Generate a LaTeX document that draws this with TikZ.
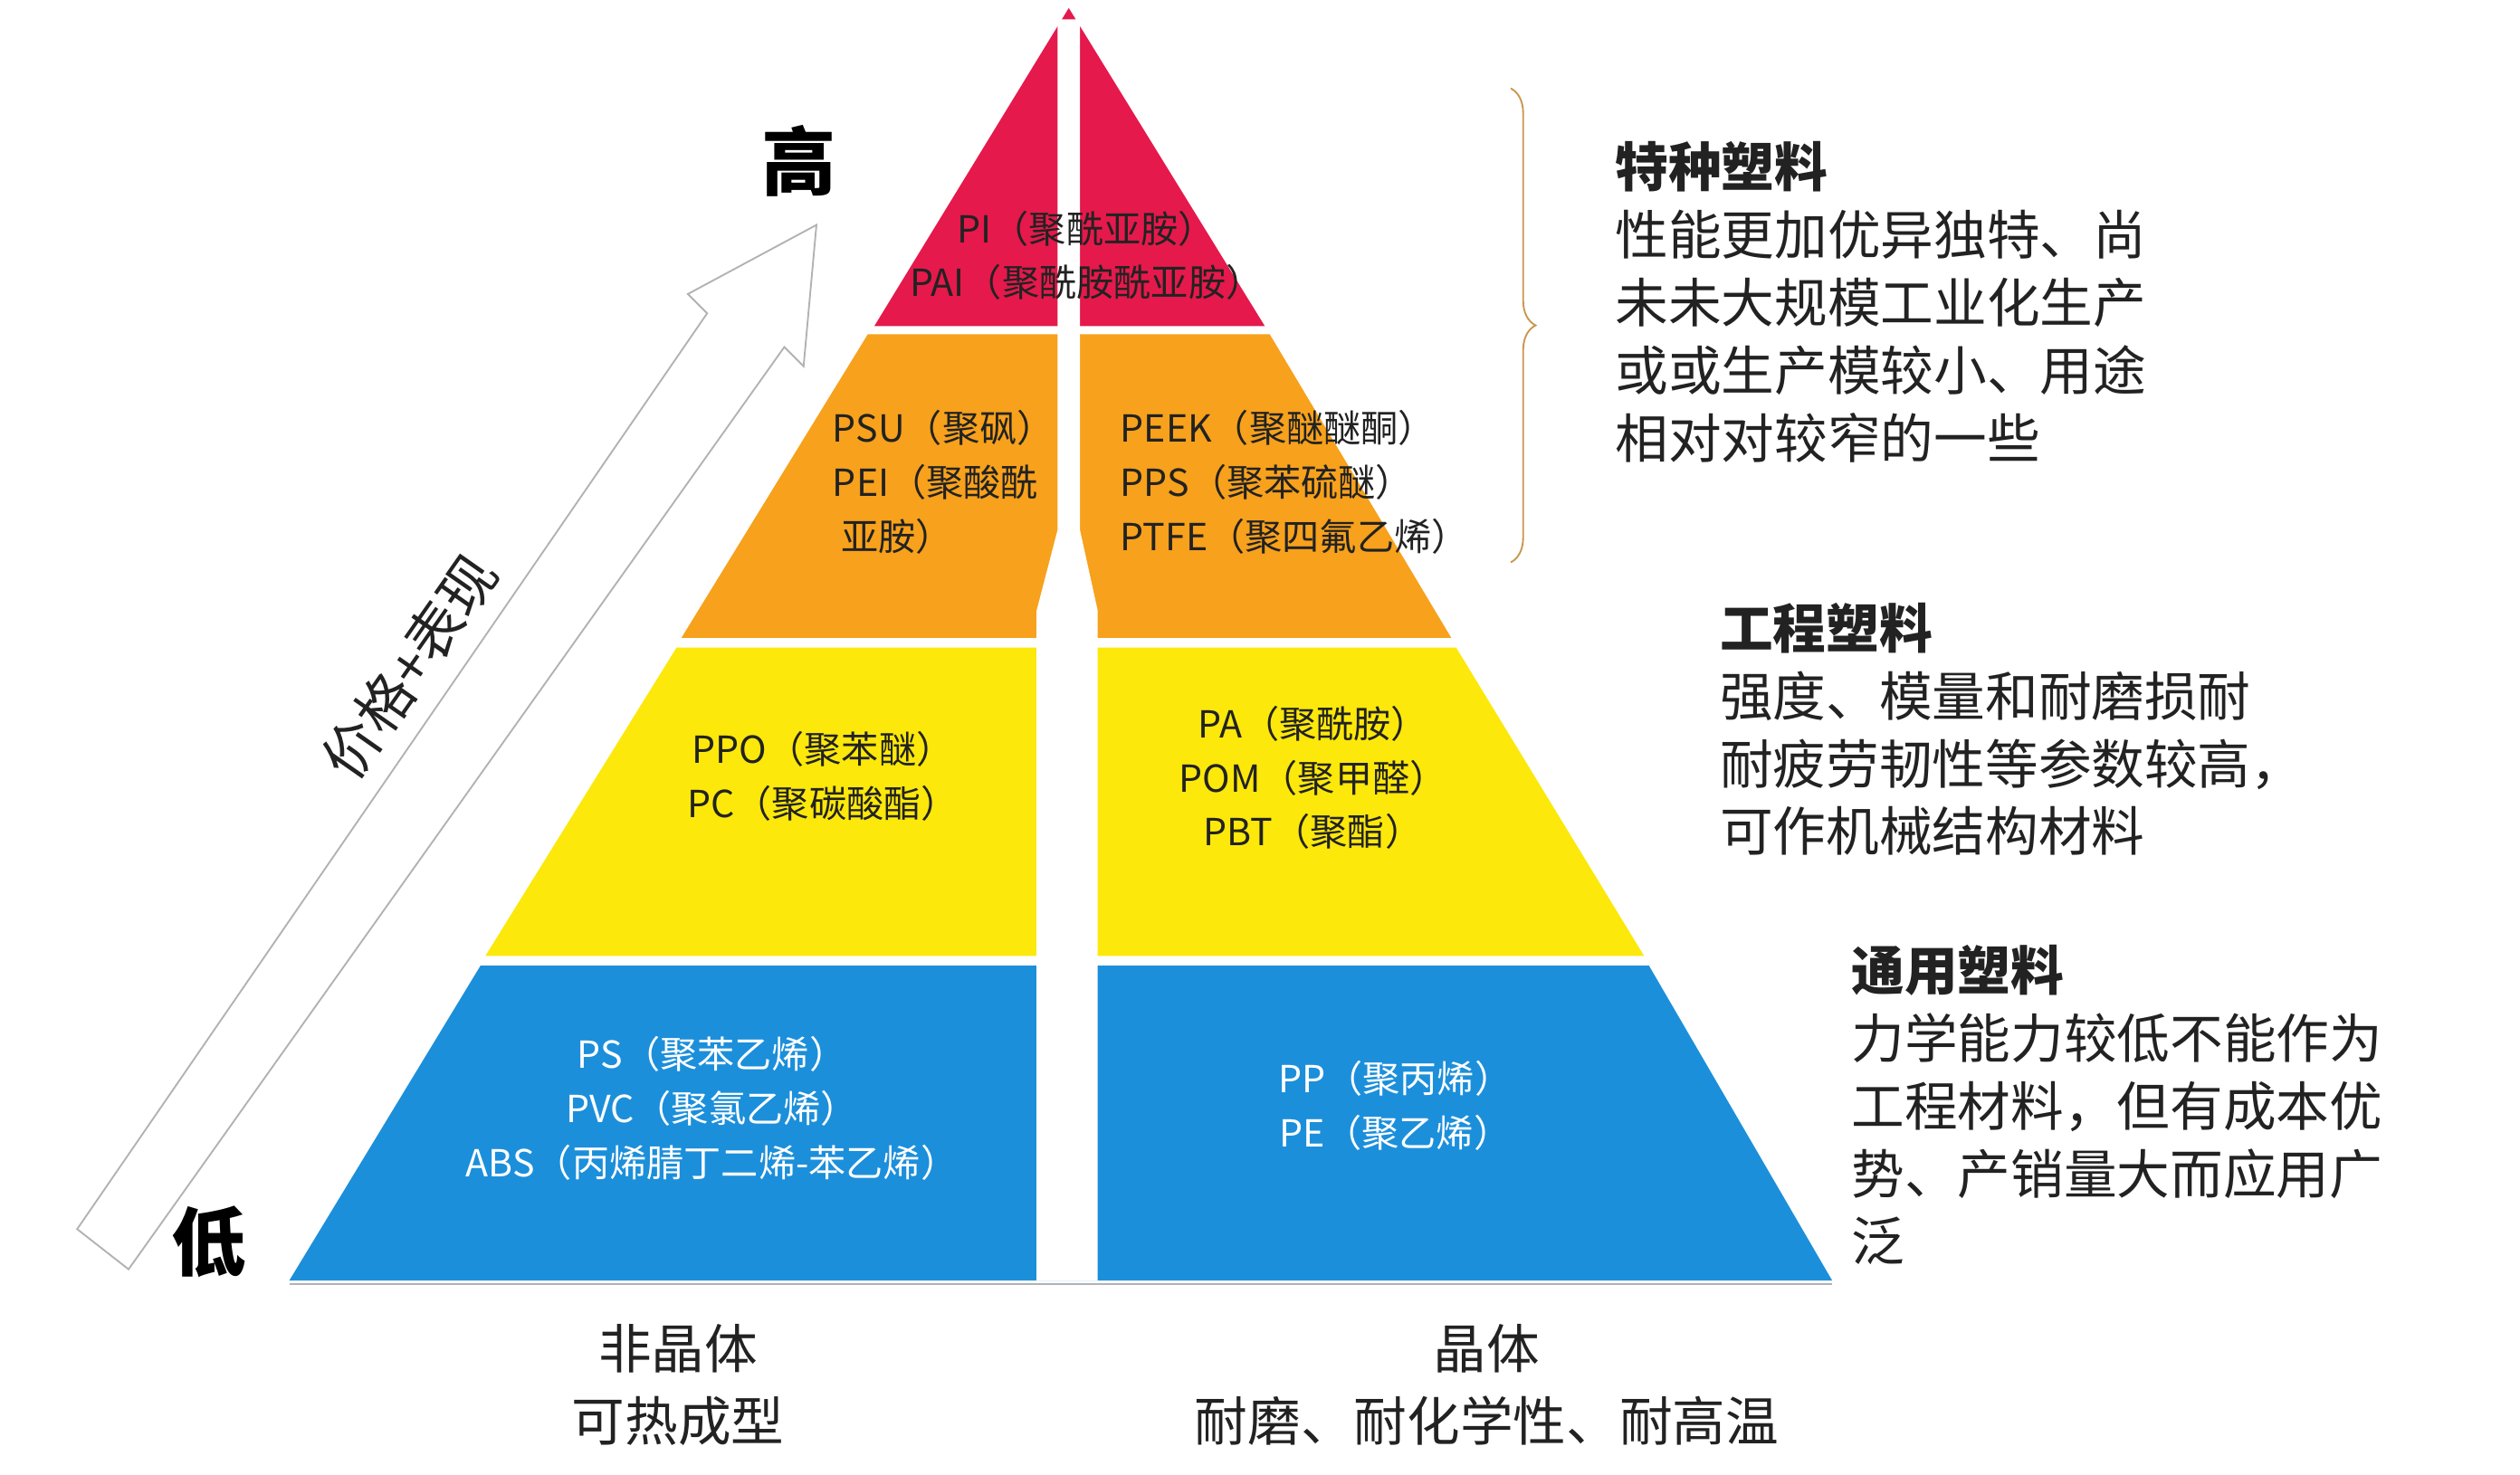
\documentclass[tikz,border=0pt]{standalone}
\usepackage{fontspec}
\setmainfont{Noto Sans CJK SC}
\usetikzlibrary{decorations.pathreplacing}
\definecolor{cred}{HTML}{E5194B}
\definecolor{corange}{HTML}{F7A11C}
\definecolor{cyellow}{HTML}{FCE80A}
\definecolor{cblue}{HTML}{1C8FDB}
\definecolor{cbrace}{HTML}{C9974F}
\definecolor{ctext}{HTML}{222222}
\begin{document}
\begin{tikzpicture}[x=0.05cm,y=-0.05cm,
  lab/.style={font=\fontsize{33}{48}\selectfont,text=ctext,align=center,inner sep=0},
  labl/.style={lab,align=left,anchor=north west},
  wl/.style={lab,text=white},
  desc/.style={font=\fontsize{47}{60}\selectfont,text=ctext,align=left,anchor=north west,inner sep=0},
  bot/.style={font=\fontsize{47}{64}\selectfont,text=ctext,align=center,inner sep=0},
  big/.style={font=\fontsize{66}{66}\selectfont\bfseries,text=black,inner sep=0}]
\useasboundingbox (0,0) rectangle (1568,918);
\fill[white] (0,0) rectangle (1568,918);
\fill[cred] (665,5) -- (787,203) -- (544,203) -- cycle;
\fill[corange] (540,208) -- (790,208) -- (903,397) -- (424,397) -- cycle;
\fill[cyellow] (421,403) -- (906,403) -- (1023,595) -- (302,595) -- cycle;
\fill[cblue] (299,601) -- (1026,601) -- (1140,797) -- (180,797) -- cycle;
\draw[gray!60,line width=1.5] (180,799) -- (1140,799);
% divider
\fill[white] (658,12) -- (672,12) -- (672,330) -- (683,380) -- (683,797) -- (645,797) -- (645,380) -- (658,330) -- cycle;
% arrow
\draw[gray!60,line width=1.5,fill=white] (48,765) -- (440,195) -- (428,183) -- (508,140) -- (500,228) -- (488,216) -- (80,790) -- cycle;
\node[font=\fontsize{50}{50}\selectfont,text=ctext,rotate=55,fill=white,inner sep=4] (ar) at (255,415) {价格+表现};
\node[big] (hi) at (497,100) {高};
\node[big] (lo) at (130,773) {低};
\node[lab] (r1) at (676,159) {PI（聚酰亚胺）\\PAI（聚酰胺酰亚胺）};
\node[labl] (ol) at (518,255) {PSU（聚砜）\\PEI（聚酸酰\\\ 亚胺）};
\node[labl] (or) at (697,255) {PEEK（聚醚醚酮）\\PPS（聚苯硫醚）\\PTFE（聚四氟乙烯）};
\node[lab] (yl) at (512,483) {PPO（聚苯醚）\\PC（聚碳酸酯）};
\node[lab] (yr) at (817,484) {PA（聚酰胺）\\POM（聚甲醛）\\PBT（聚酯）};
\node[wl] (bl) at (443,690) {PS（聚苯乙烯）\\PVC（聚氯乙烯）\\ABS（丙烯腈丁二烯-苯乙烯）};
\node[wl] (br) at (868,688) {PP（聚丙烯）\\PE（聚乙烯）};
\node[bot] (b1) at (422,862) {非晶体\\可热成型};
\node[bot] (b2) at (925,862) {晶体\\耐磨、耐化学性、耐高温};
\draw[cbrace,line width=1.5,decorate,decoration={brace,amplitude=22}] (940,55) -- (940,350);
\node[desc] (d1) at (1005,88) {\textbf{特种塑料}\\性能更加优异独特、尚\\未未大规模工业化生产\\或或生产模较小、用途\\相对对较窄的一些};
\node[desc] (d2) at (1070,375) {\textbf{工程塑料}\\强度、模量和耐磨损耐\\耐疲劳韧性等参数较高，\\可作机械结构材料};
\node[desc] (d3) at (1152,588) {\textbf{通用塑料}\\力学能力较低不能作为\\工程材料，但有成本优\\势、产销量大而应用广\\泛};
\end{tikzpicture}
\end{document}
